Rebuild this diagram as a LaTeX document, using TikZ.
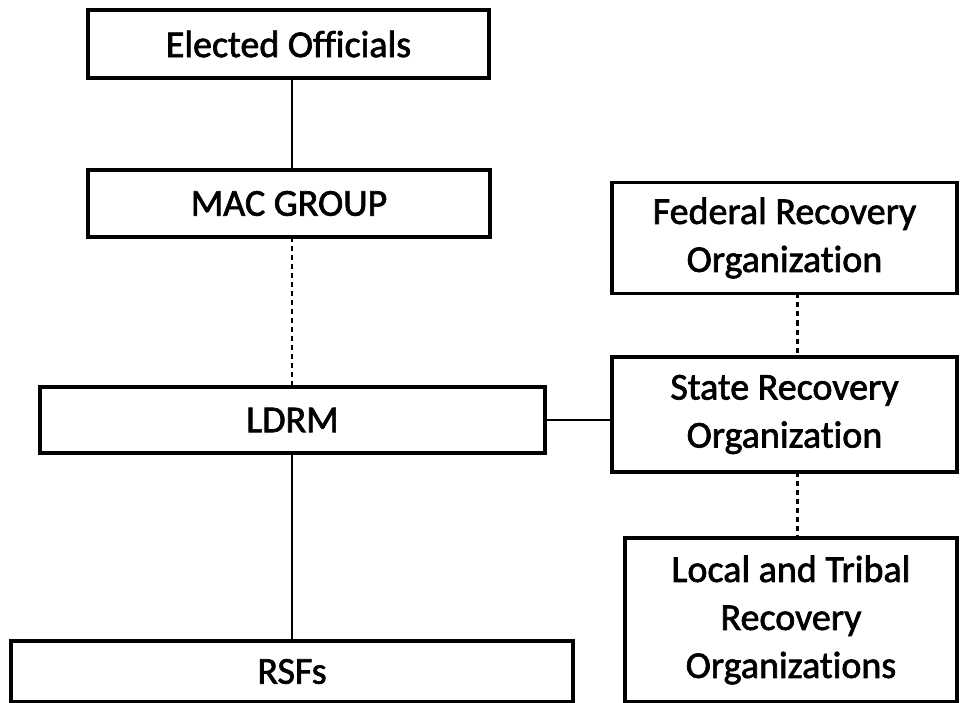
\documentclass[tikz,border=0pt]{standalone}
\usepackage{fontspec}
\setmainfont{Carlito}[Ligatures=NoCommon, RawFeature={embolden=1.8}]
\begin{document}
\begin{tikzpicture}[x=1pt,y=-1pt,
  orgbox/.style={draw=black, line width=3.5pt, fill=white, inner sep=0pt, outer sep=0pt,
    align=center, font=\fontsize{38}{48}\selectfont},
  solidlink/.style={draw=black, line width=2.2pt},
  dashlink/.style={draw=black, line width=2.4pt, dash pattern=on 5pt off 4pt}]
  \useasboundingbox (0,0) rectangle (961,703);
  % left column
  \node[orgbox, minimum width=401pt, minimum height=68pt] (elected) at (288.5,44) {Elected Officials};
  \node[orgbox, minimum width=402pt, minimum height=67pt] (mac) at (289,203.5) {MAC GROUP};
  \node[orgbox, minimum width=505pt, minimum height=66pt] (ldrm) at (292.5,420) {LDRM};
  \node[orgbox, minimum width=562pt, minimum height=61pt] (rsfs) at (292,671.5) {\raisebox{-5pt}{RSFs}};
  % right column
  \node[orgbox, minimum width=345pt, minimum height=111pt] (federal) at (784.5,238) {Federal Recovery\\Organization};
  \node[orgbox, minimum width=345pt, minimum height=115pt] (state) at (784.5,414.5) {State Recovery\\Organization};
  \node[orgbox, minimum width=332pt, minimum height=164pt] (local) at (791,620) {Local and Tribal\\Recovery\\Organizations};
  % connector axes
  \coordinate (spine) at (292,0);
  \coordinate (rspine) at (797.5,0);
  % connectors
  \draw[solidlink] (elected.south -| spine) -- (mac.north -| spine);
  \draw[dashlink] (mac.south -| spine) -- (ldrm.north -| spine);
  \draw[solidlink] (ldrm.south -| spine) -- (rsfs.north -| spine);
  \draw[solidlink] (ldrm.east) -- (state.west |- ldrm.east);
  \draw[dashlink] (federal.south -| rspine) -- (state.north -| rspine);
  \draw[dashlink] (state.south -| rspine) -- (local.north -| rspine);
\end{tikzpicture}
\end{document}
